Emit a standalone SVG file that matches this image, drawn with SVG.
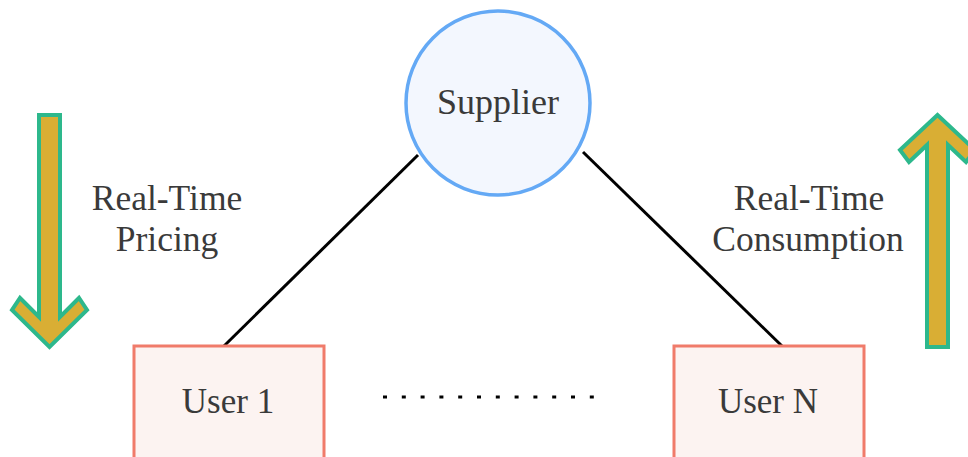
<svg xmlns="http://www.w3.org/2000/svg" width="968" height="457" viewBox="0 0 968 457">
<style>
text{font-family:"Liberation Serif","Times New Roman",serif;fill:#3a3a3a;text-anchor:middle}
.user rect{fill:#FCF3F1;stroke:#F07B6A;stroke-width:3}
.arrow{fill:#D9AE34;stroke:#2DB88C;stroke-width:4;stroke-linejoin:miter}
.link{stroke:#000;stroke-width:3;fill:none}
</style>
<rect width="968" height="457" fill="#fff"/>
<g id="connectors">
<line class="link" x1="418" y1="155" x2="224" y2="346"/>
<line class="link" x1="583" y1="152" x2="783" y2="347"/>
<line x1="383" y1="397" x2="595" y2="397" stroke="#000" stroke-width="3" stroke-dasharray="4 14.8"/>
</g>
<g id="supplier">
<circle cx="498" cy="103" r="92" fill="#F3F7FE" stroke="#64A9F5" stroke-width="3.5"/>
<text x="498" y="114" font-size="36">Supplier</text>
</g>
<g id="user1" class="user">
<rect x="134" y="346" width="190" height="130"/>
<text x="228" y="413" font-size="35">User 1</text>
</g>
<g id="userN" class="user">
<rect x="674" y="346" width="190" height="130"/>
<text x="768" y="413" font-size="35">User N</text>
</g>
<g id="pricing-arrow">
<polygon class="arrow" points="39,115 60,115 60,317 79,298 87,310 49.5,347 12,310 20,298 39,317"/>
<text x="167" y="210" font-size="35.5">Real-Time</text>
<text x="167" y="251" font-size="35.5">Pricing</text>
</g>
<g id="consumption-arrow">
<polygon class="arrow" points="927,347 948,347 948,145 966,162 975,150 937.5,115 900,150 909,162 927,145"/>
<text x="809" y="210" font-size="35.5">Real-Time</text>
<text x="808" y="251" font-size="35.5">Consumption</text>
</g>
</svg>
